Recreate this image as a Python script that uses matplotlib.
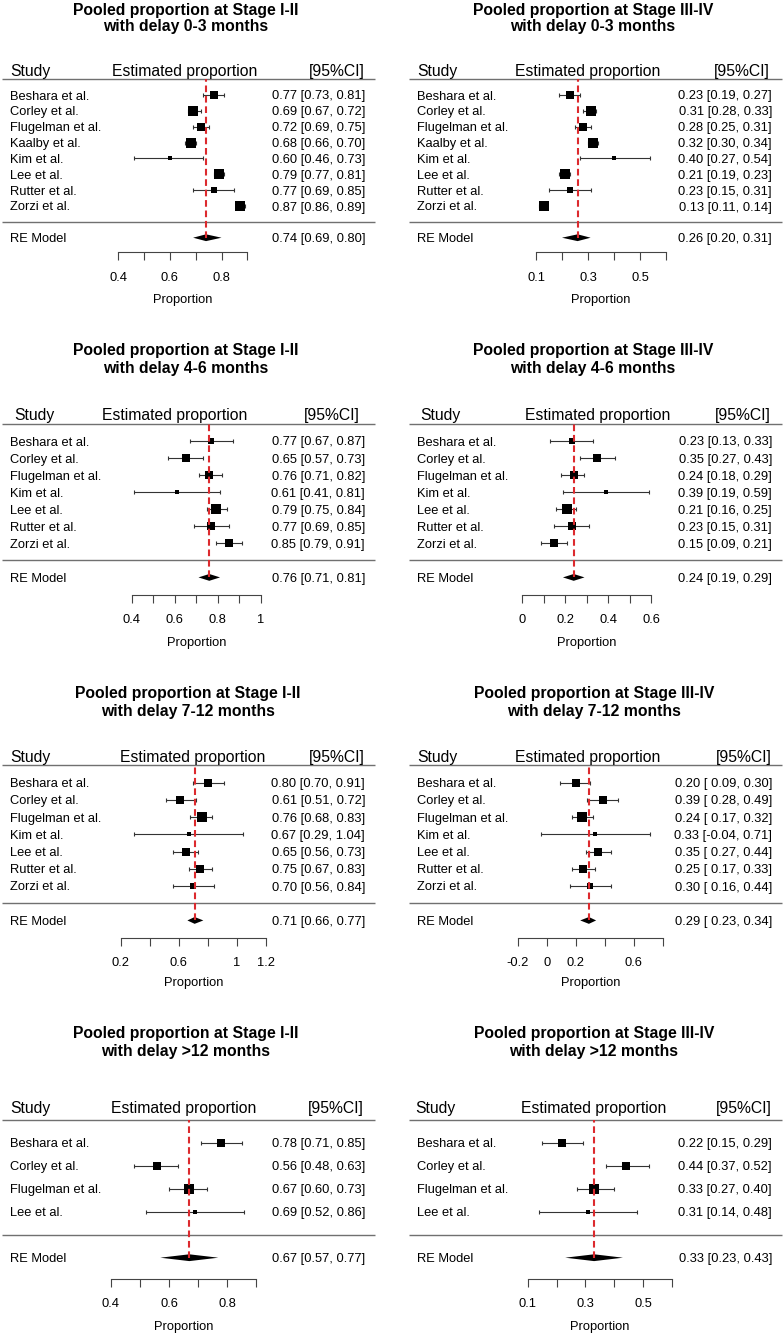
import matplotlib
matplotlib.use("Agg")
import matplotlib.pyplot as plt
import numpy as np

plt.rcParams['font.family'] = ['Liberation Sans', 'DejaVu Sans']

W, H = 784, 1336

# ---------------- data ----------------
stage_titles = ["Pooled proportion at Stage I-II", "Pooled proportion at Stage III-IV"]
delay_titles = ["with delay 0-3 months", "with delay 4-6 months",
                "with delay 7-12 months", "with delay >12 months"]

studies_0_3 = ["Beshara et al.", "Corley et al.", "Flugelman et al.", "Kaalby et al.",
               "Kim et al.", "Lee et al.", "Rutter et al.", "Zorzi et al."]
studies_4_12 = ["Beshara et al.", "Corley et al.", "Flugelman et al.", "Kim et al.",
                "Lee et al.", "Rutter et al.", "Zorzi et al."]
studies_gt12 = ["Beshara et al.", "Corley et al.", "Flugelman et al.", "Lee et al."]

# Stage I-II, 0-3 months
est_a1 = [0.77, 0.69, 0.72, 0.68, 0.60, 0.79, 0.77, 0.87]
lo_a1 = [0.73, 0.67, 0.69, 0.66, 0.46, 0.77, 0.69, 0.86]
hi_a1 = [0.81, 0.72, 0.75, 0.70, 0.73, 0.81, 0.85, 0.89]
re_a1 = [0.74, 0.69, 0.80]
# Stage III-IV, 0-3 months
est_b1 = [0.23, 0.31, 0.28, 0.32, 0.40, 0.21, 0.23, 0.13]
lo_b1 = [0.19, 0.28, 0.25, 0.30, 0.27, 0.19, 0.15, 0.11]
hi_b1 = [0.27, 0.33, 0.31, 0.34, 0.54, 0.23, 0.31, 0.14]
re_b1 = [0.26, 0.20, 0.31]
# Stage I-II, 4-6 months
est_a2 = [0.77, 0.65, 0.76, 0.61, 0.79, 0.77, 0.85]
lo_a2 = [0.67, 0.57, 0.71, 0.41, 0.75, 0.69, 0.79]
hi_a2 = [0.87, 0.73, 0.82, 0.81, 0.84, 0.85, 0.91]
re_a2 = [0.76, 0.71, 0.81]
# Stage III-IV, 4-6 months
est_b2 = [0.23, 0.35, 0.24, 0.39, 0.21, 0.23, 0.15]
lo_b2 = [0.13, 0.27, 0.18, 0.19, 0.16, 0.15, 0.09]
hi_b2 = [0.33, 0.43, 0.29, 0.59, 0.25, 0.31, 0.21]
re_b2 = [0.24, 0.19, 0.29]
# Stage I-II, 7-12 months
est_a3 = [0.80, 0.61, 0.76, 0.67, 0.65, 0.75, 0.70]
lo_a3 = [0.70, 0.51, 0.68, 0.29, 0.56, 0.67, 0.56]
hi_a3 = [0.91, 0.72, 0.83, 1.04, 0.73, 0.83, 0.84]
re_a3 = [0.71, 0.66, 0.77]
# Stage III-IV, 7-12 months
est_b3 = [0.20, 0.39, 0.24, 0.33, 0.35, 0.25, 0.30]
lo_b3 = [0.09, 0.28, 0.17, -0.04, 0.27, 0.17, 0.16]
hi_b3 = [0.30, 0.49, 0.32, 0.71, 0.44, 0.33, 0.44]
re_b3 = [0.29, 0.23, 0.34]
# Stage I-II, >12 months
est_a4 = [0.78, 0.56, 0.67, 0.69]
lo_a4 = [0.71, 0.48, 0.60, 0.52]
hi_a4 = [0.85, 0.63, 0.73, 0.86]
re_a4 = [0.67, 0.57, 0.77]
# Stage III-IV, >12 months
est_b4 = [0.22, 0.44, 0.33, 0.31]
lo_b4 = [0.15, 0.37, 0.27, 0.14]
hi_b4 = [0.29, 0.52, 0.40, 0.48]
re_b4 = [0.33, 0.23, 0.43]

ticks_a1 = [0.4, 0.5, 0.6, 0.7, 0.8, 0.9]
ticklab_a1 = ["0.4", "", "0.6", "", "0.8", ""]
ticks_b1 = [0.1, 0.2, 0.3, 0.4, 0.5, 0.6]
ticklab_b1 = ["0.1", "", "0.3", "", "0.5", ""]
ticks_a2 = [0.4, 0.5, 0.6, 0.7, 0.8, 0.9, 1.0]
ticklab_a2 = ["0.4", "", "0.6", "", "0.8", "", "1"]
ticks_b2 = [0.0, 0.1, 0.2, 0.3, 0.4, 0.5, 0.6]
ticklab_b2 = ["0", "", "0.2", "", "0.4", "", "0.6"]
ticks_a3 = [0.2, 0.4, 0.6, 0.8, 1.0, 1.2]
ticklab_a3 = ["0.2", "", "0.6", "", "1", "1.2"]
ticks_b3 = [-0.2, 0.0, 0.2, 0.4, 0.6, 0.8]
ticklab_b3 = ["-0.2", "0", "0.2", "", "0.6", ""]
ticks_a4 = [0.4, 0.5, 0.6, 0.7, 0.8, 0.9]
ticklab_a4 = ["0.4", "", "0.6", "", "0.8", ""]
ticks_b4 = [0.1, 0.2, 0.3, 0.4, 0.5, 0.6]
ticklab_b4 = ["0.1", "", "0.3", "", "0.5", ""]

# ---------------- layout (pixels) ----------------
L_LINE = (1.7, 375)
R_LINE = (408.7, 782)
panels = [
    dict(stage=0, delay=0, studies=studies_0_3, est=est_a1, lo=lo_a1, hi=hi_a1, re=re_a1,
         ticks=ticks_a1, tl=ticklab_a1, cell=(0, 0, 392, 330), xmap=(0.4, 118.3, 0.9, 247.3),
         first=95, last=206, tb=(15.3, 31.3), tcx=185.8, hb=76, line=L_LINE,
         axis=252.3, lab=276.7, xlab=300, left=10, right=365, hl=10, hr=365, ecx=185),
    dict(stage=1, delay=0, studies=studies_0_3, est=est_b1, lo=lo_b1, hi=hi_b1, re=re_b1,
         ticks=ticks_b1, tl=ticklab_b1, cell=(392, 0, 784, 330), xmap=(0.1, 536, 0.6, 666),
         first=95, last=206, tb=(15.3, 31.3), tcx=592.8, hb=76, line=R_LINE,
         axis=252.3, lab=276.7, xlab=300, left=417, right=772, hl=417, hr=770, ecx=587.3),
    dict(stage=0, delay=1, studies=studies_4_12, est=est_a2, lo=lo_a2, hi=hi_a2, re=re_a2,
         ticks=ticks_a2, tl=ticklab_a2, cell=(0, 330, 392, 660), xmap=(0.4, 131.7, 1.0, 261),
         first=441, last=543.3, tb=(354.7, 373), tcx=185.8, hb=420, line=L_LINE,
         axis=595, lab=618.3, xlab=642.7, left=10, right=365, hl=14, hr=360, ecx=175),
    dict(stage=1, delay=1, studies=studies_4_12, est=est_b2, lo=lo_b2, hi=hi_b2, re=re_b2,
         ticks=ticks_b2, tl=ticklab_b2, cell=(392, 330, 784, 660), xmap=(0.0, 522, 0.6, 651.3),
         first=441, last=543.3, tb=(354.7, 373), tcx=592.8, hb=420, line=R_LINE,
         axis=595, lab=618.3, xlab=642.7, left=417, right=772, hl=420.3, hr=770.3, ecx=597.3),
    dict(stage=0, delay=2, studies=studies_4_12, est=est_a3, lo=lo_a3, hi=hi_a3, re=re_a3,
         ticks=ticks_a3, tl=ticklab_a3, cell=(0, 660, 392, 990), xmap=(0.2, 120.7, 1.2, 265.7),
         first=782.7, last=886, tb=(698, 716.3), tcx=187.8, hb=762, line=L_LINE,
         axis=938, lab=961.7, xlab=983.3, left=10, right=365, hl=10.7, hr=365, ecx=192.8),
    dict(stage=1, delay=2, studies=studies_4_12, est=est_b3, lo=lo_b3, hi=hi_b3, re=re_b3,
         ticks=ticks_b3, tl=ticklab_b3, cell=(392, 660, 784, 990), xmap=(-0.2, 518, 0.8, 662.7),
         first=782.7, last=886, tb=(698, 716.3), tcx=594, hb=762, line=R_LINE,
         axis=938, lab=961.7, xlab=983.3, left=417, right=772, hl=417, hr=772, ecx=587.3),
    dict(stage=0, delay=3, studies=studies_gt12, est=est_a4, lo=lo_a4, hi=hi_a4, re=re_a4,
         ticks=ticks_a4, tl=ticklab_a4, cell=(0, 990, 392, 1336), xmap=(0.4, 111, 0.9, 256),
         first=1142.7, last=1211.7, tb=(1038, 1056.3), tcx=185.8, hb=1112.7, line=L_LINE,
         axis=1279.3, lab=1302.7, xlab=1326.7, left=10, right=365, hl=10.7, hr=364, ecx=183.3),
    dict(stage=1, delay=3, studies=studies_gt12, est=est_b4, lo=lo_b4, hi=hi_b4, re=re_b4,
         ticks=ticks_b4, tl=ticklab_b4, cell=(392, 990, 784, 1336), xmap=(0.1, 527.7, 0.6, 672),
         first=1142.7, last=1211.7, tb=(1038, 1056.3), tcx=593.7, hb=1112.7, line=R_LINE,
         axis=1279.3, lab=1302.7, xlab=1326.7, left=417, right=772, hl=415, hr=772, ecx=593.7),
]

FS_TITLE = 11.3
FS_HEAD = 11.3
FS = 9.3
PX2PT = 72 / 100.0
TICK_PX = 8.0
RED = '#dc2a2e'
GRAY = '#707070'
DARK = '#333333'

fig = plt.figure(figsize=(W / 100, H / 100), dpi=100)


def fmt_ci(e, l, u, pad):
    lw = "%5.2f" % l if pad else "%.2f" % l
    return "%.2f [%s, %.2f]" % (e, lw, u)


def re_point_sizes(y, lo, hi):
    """Random-effects (DerSimonian-Laird) weights, scaled metafor-style to 0.5..1.5."""
    vi = ((hi - lo) / (2 * 1.96)) ** 2
    wf = 1 / vi
    ybar = (wf * y).sum() / wf.sum()
    Q = (wf * (y - ybar) ** 2).sum()
    C = wf.sum() - (wf ** 2).sum() / wf.sum()
    tau2 = max(0.0, (Q - (len(y) - 1)) / C)
    w = 1 / (vi + tau2)
    ps = w / w.sum()
    rng = ps.max() - ps.min()
    return (ps - ps.min()) / rng + 0.5


for p in panels:
    x0, y0, x1, y1 = p['cell']
    ax = fig.add_axes([x0 / W, 1 - y1 / H, (x1 - x0) / W, (y1 - y0) / H])
    v0, p0, v1, p1 = p['xmap']
    sx = (v1 - v0) / (p1 - p0)

    def vx(px):
        return v0 + (px - p0) * sx

    k = len(p['studies'])
    sp = (p['last'] - p['first']) / (k - 1)

    def ry(py):
        return 1 + (p['last'] - py) / sp

    ax.set_xlim(vx(x0), vx(x1))
    ax.set_ylim(ry(y1), ry(y0))
    ax.patch.set_alpha(0)
    for s in ['top', 'left', 'right']:
        ax.spines[s].set_visible(False)
    ax.set_yticks([])

    est = np.array(p['est']); lo = np.array(p['lo']); hi = np.array(p['hi'])
    rows = np.arange(k, 0, -1)
    ps = re_point_sizes(est, lo, hi)

    # titles
    ax.text(vx(p['tcx']), ry(p['tb'][0]), stage_titles[p['stage']], ha='center', va='baseline',
            fontsize=FS_TITLE, fontweight='bold')
    ax.text(vx(p['tcx']), ry(p['tb'][1]), delay_titles[p['delay']], ha='center', va='baseline',
            fontsize=FS_TITLE, fontweight='bold')

    # header
    ax.text(vx(p['hl']), ry(p['hb']), "Study", ha='left', va='baseline', fontsize=FS_HEAD)
    ax.text(vx(p['ecx']), ry(p['hb']), "Estimated proportion", ha='center', va='baseline',
            fontsize=FS_HEAD)
    ax.text(vx(p['hr']), ry(p['hb']), "[95%CI]", ha='right', va='baseline', fontsize=FS_HEAD)

    # horizontal separators
    lx = (vx(p['line'][0]), vx(p['line'][1]))
    ax.plot(lx, [k + 1, k + 1], color=GRAY, lw=1.0, solid_capstyle='butt')
    ax.plot(lx, [0, 0], color=GRAY, lw=1.0, solid_capstyle='butt')

    # CI lines with caps
    ax.errorbar(est, rows, xerr=[est - lo, hi - est], fmt='none', ecolor=DARK,
                elinewidth=0.8, capsize=1.6, capthick=0.8, zorder=3)
    # boxes
    for e, r, s in zip(est, rows, ps):
        ax.plot([e], [r], marker='s', color='black', markersize=5.6 * s * PX2PT + 0.6,
                markeredgewidth=0, linestyle='none', zorder=4)

    pad = bool((lo < 0).any())
    for name, e, l, u, r in zip(p['studies'], est, lo, hi, rows):
        ax.text(vx(p['left']), r, name, ha='left', va='center_baseline', fontsize=FS)
        ax.text(vx(p['right']), r, fmt_ci(e, l, u, pad), ha='right', va='center_baseline',
                fontsize=FS)

    # pooled estimate (diamond)
    re_e, re_l, re_u = p['re']
    hh = 3.4 / sp
    ax.fill([re_l, re_e, re_u, re_e], [-1, -1 + hh, -1, -1 - hh], color='black', lw=0, zorder=4)
    ax.text(vx(p['left']), -1, "RE Model", ha='left', va='center_baseline', fontsize=FS)
    ax.text(vx(p['right']), -1, fmt_ci(re_e, re_l, re_u, pad), ha='right',
            va='center_baseline', fontsize=FS)

    # reference line at pooled estimate
    ax.plot([re_e, re_e], [-1, k + 1], color=RED, lw=1.5, linestyle=(0, (3.2, 1.8)), zorder=5)

    # x axis
    ax.spines['bottom'].set_position(('data', ry(p['axis'])))
    ax.spines['bottom'].set_bounds(p['ticks'][0], p['ticks'][-1])
    ax.spines['bottom'].set_color('#444444')
    ax.spines['bottom'].set_linewidth(0.8)
    ax.set_xticks(p['ticks'])
    ax.set_xticklabels(p['tl'])
    lab_pad_px = p['lab'] - p['axis'] - TICK_PX - 0.36 * FS / PX2PT
    ax.tick_params(axis='x', direction='out', length=TICK_PX * PX2PT, width=0.8,
                   color='#444444', labelsize=FS, pad=lab_pad_px * PX2PT)
    xc = (p['ticks'][0] + p['ticks'][-1]) / 2
    ax.text(xc, ry(p['xlab']), "Proportion", ha='center', va='center', fontsize=FS)

fig.savefig("out.png", dpi=100)
